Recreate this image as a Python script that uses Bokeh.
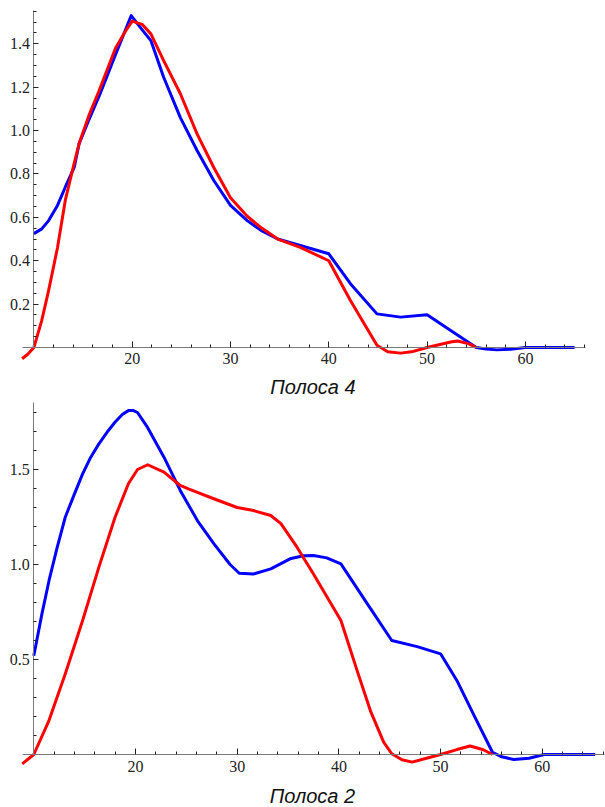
from bokeh.plotting import figure
from bokeh.models import Range1d, LinearAxis, FixedTicker, Label
from bokeh.layouts import column
from bokeh.embed import file_html
from bokeh.resources import INLINE

# ---------------- data: Полоса 4 (top) ----------------
top_blue_x = [10, 10.8, 11.5, 12.4, 13.2, 14.1, 14.6, 15.6, 16.6, 17.0, 18.3, 19.9, 20.8, 21.9, 23.2, 24.9,
              26.6, 28.3, 30.0, 31.7, 33.1, 34.8, 37.1, 40.0, 42.2, 44.9, 47.3, 50.0, 52.4, 55.0,
              56.0, 57.1, 58.5, 60.0, 65.0]
top_blue_y = [0.525, 0.547, 0.585, 0.655, 0.74, 0.83, 0.94, 1.05, 1.155, 1.2, 1.35, 1.53, 1.477, 1.415, 1.246, 1.06,
              0.908, 0.77, 0.655, 0.585, 0.54, 0.50, 0.47, 0.432, 0.294, 0.155, 0.14, 0.151, 0.078, 0.0,
              -0.007, -0.011, -0.008, 0.0, 0.0]
top_red_x = [8.8, 9.4, 10, 10.8, 11.5, 12.4, 13.2, 14.1, 14.6, 15.6, 16.6, 18.3, 19.2, 20.0, 21.0, 21.9, 23.2,
             24.9, 26.6, 28.3, 30.0, 31.7, 33.1, 34.8, 37.1, 40.0, 42.2, 44.9, 46.0, 47.3, 48.6, 50.0,
             52.4, 53.1, 54.2, 55.0]
top_red_y = [-0.052, -0.03, 0.0, 0.125, 0.263, 0.46, 0.68, 0.85, 0.94, 1.07, 1.18, 1.38, 1.45, 1.505, 1.49, 1.446, 1.323,
             1.17, 0.985, 0.83, 0.69, 0.605, 0.553, 0.50, 0.462, 0.40, 0.217, 0.01, -0.02, -0.026, -0.018, 0.0,
             0.025, 0.03, 0.018, 0.0]

# ---------------- data: Полоса 2 (bottom) ----------------
bot_blue_x = [10, 10.8, 11.5, 12.3, 13.1, 14.0, 14.8, 15.6, 16.4, 17.2, 18.0, 18.7, 19.3, 19.8, 20.2, 21.2,
              22.8, 24.4, 26.1, 27.7, 29.3, 30.2, 31.6, 33.3, 35.2, 36.5, 37.5, 38.8, 40.2, 42.8, 45.2,
              47.7, 50.0, 51.6, 53.3, 55.1, 56.0, 57.2, 58.7, 60.2, 65.2]
bot_blue_y = [0.52, 0.74, 0.916, 1.09, 1.25, 1.372, 1.477, 1.565, 1.635, 1.696, 1.75, 1.79, 1.81, 1.81, 1.80, 1.72,
              1.565, 1.39, 1.23, 1.11, 1.00, 0.954, 0.95, 0.977, 1.03, 1.046, 1.047, 1.035, 1.003, 0.793, 0.60,
              0.568, 0.53, 0.39, 0.205, 0.012, -0.012, -0.026, -0.02, 0.0, 0.0]
bot_red_x = [8.86, 10, 11.5, 13.1, 14.8, 16.4, 18.0, 19.3, 20.2, 21.2, 22.8, 24.4, 25.2, 27.7, 30.0,
             31.6, 33.3, 34.3, 35.9, 37.5, 40.2, 41.8, 43.1, 44.4, 45.2, 46.2, 47.2, 48.7, 50.0, 51.6,
             52.9, 54.2, 55.1]
bot_red_y = [-0.049, 0.0, 0.18, 0.425, 0.705, 0.986, 1.25, 1.425, 1.50, 1.525, 1.486, 1.416, 1.398, 1.346, 1.30,
             1.284, 1.258, 1.215, 1.09, 0.95, 0.705, 0.44, 0.23, 0.065, 0.004, -0.028, -0.04, -0.018, 0.0, 0.026,
             0.045, 0.025, 0.0]

# ---------------- ticks ----------------
x_ticks = [20, 30, 40, 50, 60]
x_tick_labels = ["20", "30", "40", "50", "60"]
x_minor = [12, 14, 16, 18, 22, 24, 26, 28, 32, 34, 36, 38, 42, 44, 46, 48, 52, 54, 56, 58, 62, 64, 66]

top_y_ticks = [0.2, 0.4, 0.6, 0.8, 1.0, 1.2, 1.4]
top_y_labels = ["0.2", "0.4", "0.6", "0.8", "1.0", "1.2", "1.4"]
top_y_minor = [round(0.05 * i, 2) for i in range(1, 32)]

bot_y_ticks = [0.5, 1.0, 1.5]
bot_y_labels = ["0.5", "1.0", "1.5"]
bot_y_minor = [round(0.1 * i, 2) for i in range(1, 19)]

titles = ["Полоса 4", "Полоса 2"]

BLUE = "#0000FF"
RED = "#FF0000"


def make_panel(height, xr, yr, xbounds, ybounds, yticks, ylabels, yminor,
               bx, by, rx, ry, title, title_xy):
    p = figure(width=605, height=height, output_backend="svg", toolbar_location=None,
               x_range=Range1d(*xr), y_range=Range1d(*yr),
               x_axis_location=None, y_axis_location=None,
               min_border_left=0, min_border_right=0, min_border_top=0, min_border_bottom=0)
    p.outline_line_color = None
    p.background_fill_color = "white"
    p.border_fill_color = "white"
    for g in p.grid:
        g.visible = False

    xa = LinearAxis(fixed_location=0, bounds=xbounds,
                    ticker=FixedTicker(ticks=x_ticks, minor_ticks=x_minor),
                    major_label_overrides={t: l for t, l in zip(x_ticks, x_tick_labels)})
    ya = LinearAxis(fixed_location=10, bounds=ybounds,
                    ticker=FixedTicker(ticks=yticks, minor_ticks=yminor),
                    major_label_overrides={t: l for t, l in zip(yticks, ylabels)})
    for ax, maj, mnr in ((xa, 6, 3), (ya, 5, 3)):
        ax.axis_line_color = "#7a7a7a"
        ax.axis_line_width = 1
        ax.major_tick_line_color = "#222222"
        ax.minor_tick_line_color = "#222222"
        ax.major_tick_in = maj
        ax.major_tick_out = 0
        ax.minor_tick_in = mnr
        ax.minor_tick_out = 0
        ax.major_label_text_font = "'Liberation Serif'"
        ax.major_label_text_font_size = "16px"
        ax.major_label_text_color = "#222222"
    xa.major_label_standoff = 6
    ya.major_label_standoff = 4
    p.add_layout(xa, "below")
    p.add_layout(ya, "left")

    p.line(bx, by, line_color=BLUE, line_width=3, line_join="round")
    p.line(rx, ry, line_color=RED, line_width=3, line_join="round")

    p.add_layout(Label(x=title_xy[0], y=title_xy[1], text=title,
                       text_font="'Liberation Sans'", text_font_style="italic",
                       text_font_size="20px", text_color="#111111",
                       text_align="center", text_baseline="middle"))
    return p


p1 = make_panel(400, (6.602, 68.15), (-0.2444, 1.5998), (8.84, 66.1), (0, 1.555),
                top_y_ticks, top_y_labels, top_y_minor,
                top_blue_x, top_blue_y, top_red_x, top_red_y, titles[0], (38.39, -0.1844))
p2 = make_panel(407, (6.726, 66.215), (-0.2789, 1.8632), (8.89, 66.12), (0, 1.853),
                bot_y_ticks, bot_y_labels, bot_y_minor,
                bot_blue_x, bot_blue_y, bot_red_x, bot_red_y, titles[1], (37.40, -0.2158))

layout = column(p1, p2, spacing=0)
open("out.html", "w").write(file_html(layout, INLINE))
